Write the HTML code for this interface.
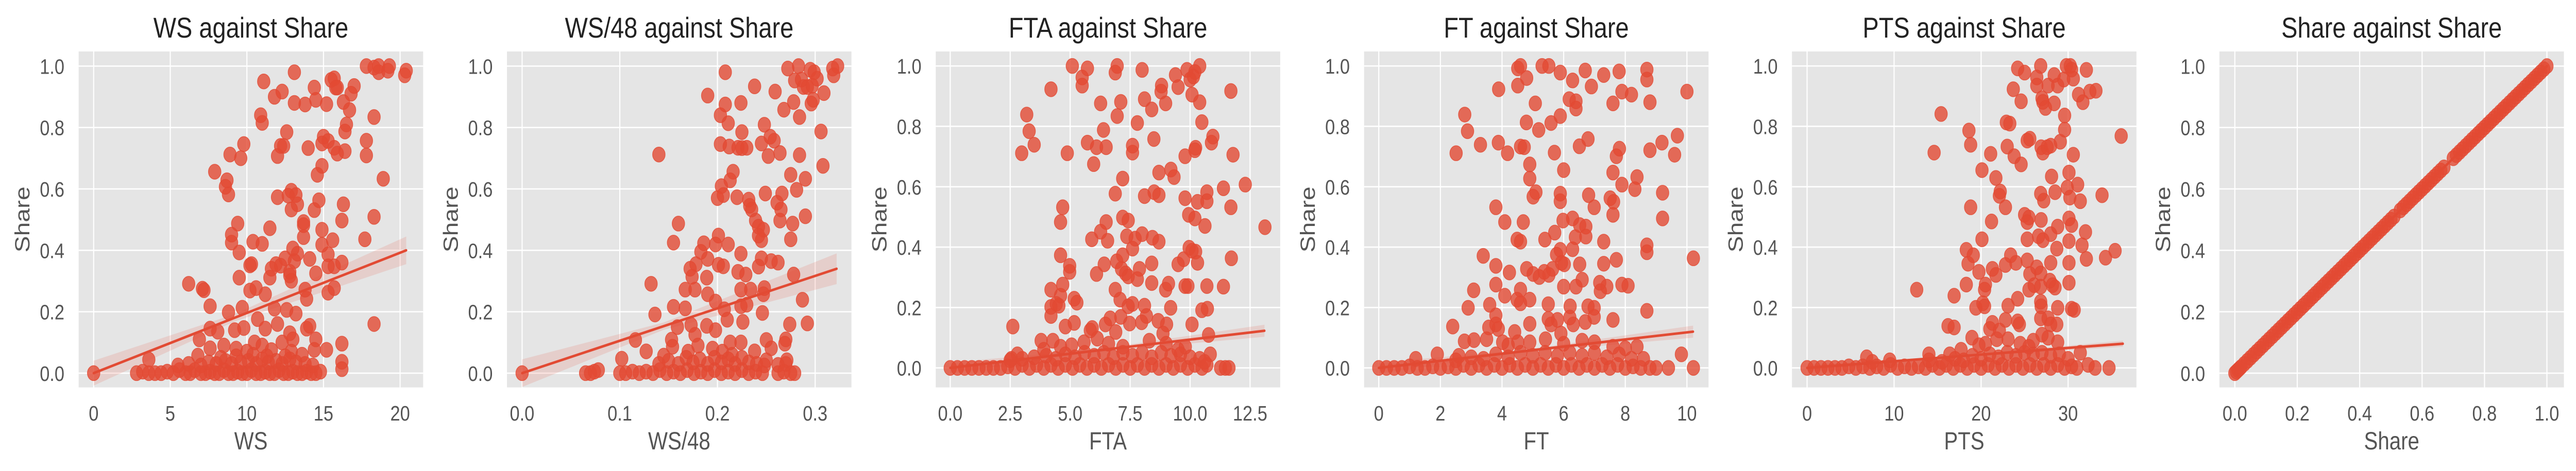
<!DOCTYPE html>
<html><head><meta charset="utf-8"><style>
html,body{margin:0;padding:0;background:#fff;overflow:hidden;width:100%;height:100%;}
svg{display:block;font-family:"Liberation Sans",sans-serif;width:100vw;height:100vh;}
</style></head><body>
<svg id="chart" viewBox="0 0 5960 915" preserveAspectRatio="none" xmlns="http://www.w3.org/2000/svg"></svg>
<script>
// ---------- data ----------
const yTicks = [0, 0.2, 0.4, 0.6, 0.8, 1.0];
const yTickLabels = ["0.0","0.2","0.4","0.6","0.8","1.0"];

const wsTicks = [0,5,10,15,20];
const wsTickLabels = ["0","5","10","15","20"];
const wsPoints = [[0,0],[13.1,.98],[11.1,.95],[17.8,1.0],[18.3,.995],[18.6,1.0],[18.6,.98],[19.3,1.0],[19.2,.985],[20.4,.985],[20.3,.97],[15.5,.955],[15.7,.96],[15.8,.93],[15.9,.93],[14.4,.93],[17.0,.935],[16.8,.91],[11.8,.90],[12.3,.917],[13.1,.88],[13.8,.875],[14.5,.89],[15.2,.876],[16.3,.883],[16.7,.857],[18.3,.834],[10.9,.84],[11.0,.815],[16.5,.81],[16.4,.787],[12.6,.785],[15.0,.77],[15.3,.756],[17.8,.757],[12.2,.74],[12.4,.74],[14.0,.733],[14.9,.748],[15.7,.734],[15.9,.715],[16.4,.723],[17.8,.709],[12.0,.707],[9.8,.746],[8.9,.712],[9.6,.70],[7.9,.656],[14.9,.675],[14.6,.646],[18.9,.633],[8.7,.628],[8.6,.607],[8.8,.582],[12.0,.573],[12.9,.594],[13.2,.58],[12.7,.578],[13.3,.55],[12.9,.533],[14.7,.563],[14.4,.531],[16.3,.55],[16.2,.497],[18.3,.509],[13.7,.492],[13.7,.482],[13.7,.443],[9.4,.487],[11.5,.472],[14.9,.467],[9.0,.451],[9.0,.425],[10.4,.428],[11.0,.421],[14.9,.418],[15.6,.433],[17.7,.436],[9.5,.393],[13.0,.406],[13.3,.389],[15.3,.387],[14.1,.372],[10.2,.351],[10.3,.355],[11.9,.355],[12.5,.374],[11.6,.34],[12.2,.35],[13.1,.365],[12.8,.33],[14.5,.325],[15.3,.348],[15.7,.348],[16.2,.36],[9.5,.311],[11.5,.311],[12.8,.318],[12.9,.301],[6.2,.291],[7.1,.275],[7.2,.27],[10.2,.269],[10.6,.277],[11.2,.257],[15.3,.262],[15.7,.277],[13.8,.272],[7.6,.218],[8.8,.198],[9.7,.213],[11.8,.21],[12.6,.206],[13.2,.194],[13.9,.242],[7.6,.145],[8.1,.135],[9.2,.14],[9.8,.147],[10.7,.176],[11.2,.145],[12.0,.16],[12.8,.13],[13.9,.145],[14.1,.154],[18.3,.16],[16.2,.096],[6.9,.11],[7.6,.081],[14.5,.11],[15.2,.076],[14.4,.076],[3.6,.044],[6.8,.057],[16.2,.037],[16.2,.013],[8.5,.09],[9.3,.08],[10.5,.1],[11.0,.09],[12.3,.1],[13.0,.11],[10.0,.07],[11.6,.075],[12.9,.07],[13.6,.06]];
const wsLow = [[2.8,0],[3.2,.005],[3.6,0],[4.0,0],[4.4,0],[4.8,.005],[5.2,0],[5.6,.01],[6.0,0],[6.3,0],[6.6,.01],[7.0,0],[7.3,0],[7.6,.005],[7.9,0],[8.2,0],[8.5,.01],[8.8,0],[9.1,0],[9.4,.005],[9.7,0],[10.0,0],[10.3,.01],[10.6,0],[10.9,0],[11.2,.005],[11.5,0],[11.8,0],[12.1,.01],[12.4,0],[12.7,0],[13.0,.005],[13.3,0],[13.6,0],[13.9,.005],[14.2,0],[14.5,0],[14.8,.005],[5.5,.025],[6.2,.03],[7.0,.025],[7.5,.035],[8.0,.03],[8.6,.04],[9.0,.03],[9.6,.035],[10.1,.04],[10.6,.03],[11.0,.045],[11.4,.035],[11.9,.04],[12.3,.03],[12.8,.045],[13.2,.035],[13.8,.03],[14.3,.025],[8.3,.05],[9.3,.055],[10.4,.06],[11.3,.055],[12.5,.055]];

const ws48Ticks = [0,0.1,0.2,0.3];
const ws48TickLabels = ["0.0","0.1","0.2","0.3"];
const ws48Points = [[0,0],[.208,.98],[.19,.904],[.208,.875],[.224,.88],[.238,.934],[.259,.917],[.272,.992],[.283,1.0],[.279,.953],[.286,.956],[.295,.988],[.299,.98],[.302,.959],[.288,.932],[.292,.932],[.297,.936],[.318,.992],[.319,.97],[.323,1.0],[.309,.912],[.296,.878],[.298,.89],[.278,.883],[.268,.858],[.284,.834],[.203,.84],[.211,.814],[.225,.785],[.248,.809],[.306,.787],[.203,.746],[.212,.738],[.221,.734],[.225,.733],[.23,.734],[.245,.748],[.254,.77],[.258,.757],[.252,.707],[.264,.717],[.284,.71],[.14,.712],[.216,.656],[.213,.628],[.275,.646],[.29,.633],[.308,.675],[.204,.609],[.2,.57],[.206,.58],[.22,.573],[.232,.565],[.233,.545],[.235,.533],[.249,.585],[.266,.585],[.261,.555],[.265,.533],[.281,.597],[.29,.511],[.264,.497],[.277,.487],[.239,.497],[.242,.477],[.247,.467],[.242,.448],[.245,.433],[.16,.487],[.155,.425],[.201,.448],[.198,.419],[.211,.419],[.186,.423],[.183,.395],[.19,.372],[.224,.389],[.275,.436],[.172,.34],[.178,.355],[.201,.353],[.206,.348],[.242,.347],[.245,.374],[.255,.365],[.262,.36],[.174,.314],[.189,.311],[.221,.33],[.229,.321],[.278,.321],[.132,.291],[.167,.272],[.177,.272],[.19,.257],[.224,.272],[.234,.272],[.248,.277],[.247,.257],[.287,.239],[.155,.216],[.167,.211],[.198,.233],[.207,.208],[.224,.218],[.23,.223],[.136,.191],[.246,.196],[.159,.15],[.173,.157],[.177,.125],[.189,.154],[.198,.14],[.21,.174],[.226,.167],[.274,.159],[.292,.162],[.27,.11],[.269,.096],[.116,.108],[.127,.071],[.153,.109],[.154,.086],[.102,.047],[.145,.057],[.25,.108],[.255,.081],[.271,.042],[.25,.042],[.238,.071],[.262,.027],[.224,.1],[.213,.1],[.18,.09],[.195,.08],[.205,.07],[.17,.07],[.215,.06]];
const ws48Low = [[.065,0],[.07,0],[.074,.005],[.078,.01],[.1,0],[.106,0],[.113,.005],[.12,0],[.127,.005],[.134,0],[.141,.01],[.148,0],[.155,.005],[.162,0],[.169,.01],[.176,0],[.183,.005],[.19,0],[.197,.01],[.204,0],[.211,.005],[.218,0],[.225,.01],[.232,0],[.239,.005],[.246,0],[.262,0],[.268,.005],[.275,0],[.279,0],[.14,.03],[.15,.04],[.16,.03],[.168,.05],[.175,.035],[.182,.045],[.19,.03],[.197,.05],[.204,.035],[.211,.045],[.218,.03],[.225,.05],[.232,.035],[.24,.03],[.248,.025],[.27,.03]];

const ftaTicks = [0,2.5,5,7.5,10,12.5];
const ftaTickLabels = ["0.0","2.5","5.0","7.5","10.0","12.5"];
const ftaPoints = [[5.09,1.0],[6.96,1.0],[6.88,.978],[5.72,.992],[5.5,.962],[5.5,.935],[8.0,.987],[9.39,.97],[9.5,.93],[9.87,.987],[10.0,.955],[10.14,.965],[10.2,.98],[10.4,1.0],[8.81,.935],[8.79,.915],[10.08,.905],[10.4,.88],[11.7,.917],[4.2,.923],[6.27,.876],[7.11,.881],[8.1,.89],[8.4,.856],[8.98,.876],[6.96,.834],[7.8,.811],[10.49,.814],[3.19,.839],[3.29,.784],[3.5,.739],[2.98,.711],[4.88,.711],[6.39,.788],[8.49,.758],[10.95,.766],[10.89,.746],[5.72,.746],[6.1,.731],[6.5,.731],[7.6,.736],[7.6,.713],[9.79,.701],[10.23,.729],[10.2,.721],[11.79,.706],[5.98,.675],[7.19,.627],[8.7,.647],[9.2,.657],[9.33,.632],[6.88,.577],[8.1,.569],[8.5,.582],[8.7,.572],[9.79,.562],[10.31,.55],[10.7,.582],[10.7,.552],[11.39,.595],[12.3,.607],[11.7,.532],[4.69,.532],[4.6,.483],[9.94,.507],[10.2,.495],[10.62,.47],[13.12,.466],[7.19,.498],[7.42,.488],[6.5,.483],[6.27,.451],[5.9,.426],[6.56,.421],[7.36,.436],[7.71,.428],[8.0,.443],[8.43,.431],[8.7,.418],[7.6,.395],[9.96,.398],[10.08,.388],[10.23,.385],[4.6,.373],[7.19,.373],[6.94,.353],[7.14,.328],[7.31,.313],[7.42,.303],[4.98,.338],[4.98,.318],[6.42,.343],[6.1,.311],[7.89,.328],[8.4,.346],[7.8,.294],[9.5,.343],[9.73,.36],[10.31,.348],[11.72,.363],[4.69,.276],[4.2,.259],[6.88,.259],[8.4,.281],[9.1,.279],[8.98,.259],[9.79,.271],[9.91,.271],[10.7,.271],[11.39,.269],[4.6,.239],[5.17,.229],[5.28,.216],[7.08,.226],[7.42,.204],[7.6,.212],[8.1,.206],[4.2,.202],[4.42,.212],[4.53,.206],[9.19,.199],[10.49,.191],[10.72,.196],[4.2,.172],[7.11,.169],[6.67,.164],[8.18,.172],[8.67,.156],[5.17,.149],[4.8,.137],[7.48,.147],[7.98,.151],[9.02,.144],[6.47,.144],[2.61,.137],[5.84,.124],[5.92,.132],[10.08,.144],[6.9,.119],[3.79,.09],[4.28,.09],[8.87,.114],[10.77,.109],[5.06,.075],[5.58,.085],[6.13,.097],[10.84,.045],[9.5,.06],[2.55,.03],[2.8,.045],[11.27,0],[11.47,0],[11.62,0],[6.6,.08],[7.2,.07],[8.3,.09],[9.0,.08],[9.8,.07],[4.6,.07],[3.9,.06]];
const ftaLow = [[0,0],[.3,0],[.6,0],[.9,0],[1.2,0],[1.5,0],[1.8,0],[2.1,0],[2.4,.005],[2.7,0],[3.0,.01],[3.3,0],[3.6,.01],[3.9,0],[4.2,.01],[4.5,0],[4.8,.01],[5.1,0],[5.4,.01],[5.7,0],[6.0,.01],[6.3,0],[6.6,.01],[6.9,0],[7.2,.01],[7.5,0],[7.8,.01],[8.1,0],[8.4,.01],[8.7,0],[9.0,.01],[9.3,0],[9.6,.01],[9.9,0],[10.2,.01],[10.5,0],[10.7,.01],[2.5,.025],[3.0,.03],[3.5,.035],[4.0,.04],[4.4,.03],[4.8,.045],[5.2,.035],[5.6,.05],[6.0,.04],[6.4,.05],[6.8,.035],[7.2,.05],[7.6,.04],[8.0,.05],[8.4,.035],[8.8,.05],[9.2,.04],[9.6,.045],[10.0,.035],[10.4,.03],[10.6,.02]];

const ftTicks = [0,2,4,6,8,10];
const ftTickLabels = ["0","2","4","6","8","10"];
const ftPoints = [[4.51,.992],[4.6,1.0],[4.51,.935],[4.8,.96],[5.3,1.0],[5.52,1.0],[5.89,.978],[6.29,.952],[6.7,.985],[6.9,.932],[7.3,.97],[7.8,.982],[8.7,.988],[8.7,.955],[8.8,.88],[7.89,.915],[8.2,.905],[7.6,.876],[10.0,.915],[3.89,.923],[5.08,.876],[6.18,.89],[6.4,.883],[6.4,.859],[2.79,.839],[2.88,.784],[4.79,.813],[5.19,.788],[5.59,.811],[5.89,.834],[3.3,.739],[2.51,.711],[3.88,.746],[4.18,.711],[4.6,.733],[4.72,.731],[5.7,.713],[6.51,.734],[6.79,.758],[7.71,.701],[7.81,.726],[8.8,.721],[9.19,.746],[9.6,.706],[9.69,.769],[4.9,.674],[4.9,.627],[6.0,.655],[7.6,.647],[8.38,.632],[7.89,.607],[8.31,.592],[9.21,.58],[5.1,.582],[5.01,.567],[5.89,.577],[5.89,.552],[6.81,.572],[6.99,.532],[7.51,.562],[7.62,.55],[7.6,.507],[9.21,.495],[3.8,.532],[4.09,.483],[4.69,.483],[5.98,.488],[6.29,.495],[6.52,.473],[6.72,.468],[5.71,.448],[6.38,.433],[6.72,.435],[4.49,.425],[4.6,.418],[5.39,.425],[7.3,.418],[6.29,.393],[8.7,.406],[8.7,.383],[3.39,.371],[5.89,.391],[5.77,.375],[5.93,.348],[6.02,.343],[6.52,.343],[7.3,.345],[7.71,.358],[10.21,.363],[3.8,.338],[4.24,.316],[4.8,.328],[5.01,.311],[5.21,.301],[5.37,.318],[5.52,.308],[5.64,.328],[3.08,.257],[2.9,.199],[3.8,.276],[4.09,.239],[4.6,.259],[4.9,.226],[4.49,.226],[4.6,.214],[6.0,.269],[6.4,.269],[6.6,.292],[7.17,.282],[7.4,.269],[7.89,.276],[8.09,.272],[7.19,.254],[3.6,.209],[5.5,.211],[6.21,.204],[6.79,.204],[6.99,.199],[6.99,.169],[8.7,.189],[3.8,.174],[3.8,.144],[3.57,.134],[3.88,.129],[5.5,.162],[5.59,.144],[5.8,.159],[6.2,.167],[6.31,.144],[6.7,.152],[7.6,.159],[4.9,.146],[2.4,.137],[4.41,.119],[5.91,.114],[2.78,.088],[3.09,.092],[3.5,.095],[4.02,.085],[4.2,.075],[4.51,.085],[4.9,.085],[5.41,.095],[8.38,.07],[9.82,.045],[8.59,.03],[8.8,0],[9.0,0],[9.4,0],[10.21,0],[6.0,.08],[6.6,.09],[7.0,.085],[7.6,.07],[8.0,.065],[1.2,.03],[1.9,.045],[2.6,.04]];
const ftLow = [[0,0],[.25,0],[.5,0],[.75,0],[1.0,.005],[1.25,0],[1.5,0],[1.75,.005],[2.0,0],[2.25,.005],[2.5,0],[2.75,.01],[3.0,0],[3.25,.01],[3.5,0],[3.75,.01],[4.0,0],[4.25,.01],[4.5,0],[4.75,.01],[5.0,0],[5.25,.01],[5.5,0],[5.75,.01],[6.0,0],[6.25,.01],[6.5,0],[6.75,.01],[7.0,0],[7.25,.01],[7.5,0],[7.75,.01],[8.0,0],[8.25,.005],[8.5,0],[2.5,.025],[3.0,.035],[3.4,.03],[3.8,.045],[4.2,.035],[4.6,.05],[5.0,.04],[5.4,.05],[5.8,.04],[6.2,.05],[6.6,.04],[7.0,.05],[7.4,.035],[7.8,.045],[8.2,.03]];

const ptsTicks = [0,10,20,30];
const ptsTickLabels = ["0","10","20","30"];
const ptsPoints = [[24.2,.992],[25.0,.978],[26.85,1.0],[26.4,.962],[26.4,.935],[28.4,.97],[27.7,.935],[28.8,.935],[29.5,.955],[29.8,1.0],[30.25,1.0],[30.4,.988],[30.6,.958],[32.1,.987],[23.7,.923],[24.6,.883],[27.0,.893],[27.1,.881],[27.4,.861],[28.4,.876],[31.2,.905],[31.7,.88],[32.5,.915],[33.2,.918],[29.6,.836],[29.6,.789],[15.4,.841],[22.9,.813],[23.3,.809],[18.6,.786],[18.8,.739],[14.6,.713],[25.3,.753],[25.6,.759],[29.1,.749],[26.9,.731],[27.1,.713],[27.6,.731],[28.0,.736],[23.0,.733],[23.8,.701],[24.6,.674],[21.1,.709],[30.6,.706],[36.1,.768],[20.1,.655],[21.7,.629],[28.1,.634],[30.1,.647],[29.9,.597],[31.1,.607],[22.2,.584],[22.1,.57],[22.8,.532],[26.85,.577],[27.2,.554],[28.5,.582],[30.2,.564],[31.4,.552],[33.9,.572],[18.8,.532],[21.2,.485],[25.0,.507],[25.5,.498],[25.3,.483],[26.9,.49],[30.1,.495],[30.4,.473],[28.8,.468],[28.0,.443],[32.0,.45],[20.1,.426],[25.3,.426],[26.6,.436],[27.1,.423],[30.1,.42],[31.6,.406],[28.7,.395],[18.3,.391],[19.1,.373],[18.5,.345],[23.4,.373],[24.0,.348],[22.8,.341],[25.3,.356],[25.6,.311],[26.4,.333],[26.85,.313],[28.0,.348],[30.1,.348],[32.1,.361],[34.3,.365],[35.4,.388],[19.75,.318],[21.3,.328],[21.7,.308],[27.9,.289],[30.1,.282],[18.3,.276],[20.5,.276],[20.4,.259],[25.5,.259],[26.1,.274],[26.85,.269],[28.2,.274],[28.5,.266],[12.6,.259],[16.9,.239],[24.2,.229],[19.4,.199],[20.2,.214],[20.4,.204],[23.1,.206],[26.85,.219],[26.9,.204],[28.8,.199],[30.4,.196],[30.7,.192],[22.8,.159],[24.2,.154],[26.85,.164],[21.3,.149],[21.0,.129],[21.8,.095],[22.1,.124],[16.2,.139],[16.9,.134],[24.4,.144],[27.7,.164],[28.0,.144],[28.7,.144],[18.95,.1],[23.1,.095],[27.7,.1],[28.8,.085],[6.85,.035],[14.0,.045],[16.4,.045],[17.7,.06],[19.75,.075],[31.4,.05],[34.7,0],[33.1,0],[32.3,.01],[20.5,.08],[24.5,.08],[26.0,.09],[27.0,.11],[25.5,.07]];
const ptsLow = [[0,0],[.8,0],[1.6,0],[2.4,0],[3.2,0],[4.0,0],[4.8,.005],[5.6,0],[6.4,.005],[7.2,0],[8.0,.005],[8.8,0],[9.6,.01],[10.4,0],[11.2,.005],[12.0,0],[12.8,.005],[13.6,0],[14.4,.01],[15.2,0],[16.0,.01],[16.8,0],[17.6,.01],[18.4,0],[19.2,.01],[20.0,0],[20.8,.01],[21.6,0],[22.4,.01],[23.2,0],[24.0,.01],[24.8,0],[25.6,.01],[26.4,0],[27.2,.01],[28.0,0],[28.8,.01],[29.6,0],[30.4,.005],[31.0,0],[14.0,.025],[15.5,.02],[17.0,.03],[18.0,.025],[19.0,.04],[20.0,.03],[21.0,.045],[22.0,.035],[23.0,.05],[24.0,.04],[25.0,.05],[26.0,.045],[27.0,.05],[28.0,.04],[29.0,.045],[30.0,.03],[9.5,.025],[7.5,.02]];

const shareValues = [0,.005,.01,.015,.02,.03,.04,.05,.06,.07,.08,.09,.1,.11,.12,.13,.14,.15,.16,.17,.18,.19,.2,.21,.22,.23,.24,.25,.26,.27,.28,.29,.3,.31,.32,.33,.34,.35,.36,.37,.38,.39,.4,.41,.42,.43,.44,.45,.46,.47,.48,.49,.5,.51,.53,.54,.55,.56,.57,.58,.59,.6,.61,.62,.63,.64,.65,.66,.67,.7,.71,.72,.73,.74,.75,.76,.77,.78,.79,.8,.81,.82,.83,.84,.85,.86,.87,.88,.89,.9,.91,.92,.93,.94,.95,.96,.97,.98,.99,1.0];

const wsFit = [0, 20.4, 0.0, 0.40];
const ws48Fit = [0, 0.322, 0.0, 0.34];
const ftaFit = [0, 13.1, 0.0, 0.123];
const ftFit = [0, 10.2, 0.0, 0.12];
const ptsFit = [0, 36.3, 0.0, 0.08];
const shareFit = [0, 1.0, 0.0, 1.0];
const wsBand = [0.012, 0.045];
const ws48Band = [0.012, 0.05];
const ftaBand = [0.004, 0.02];
const ftBand = [0.004, 0.02];
const ptsBand = [0.002, 0.01];
const shareBand = [0, 0];

// ---------- layout ----------
const NS = "http://www.w3.org/2000/svg";
const svg = document.getElementById("chart");
const COLOR = "#E24A33";
const TOP = 100, BOTTOM = 752.6, W = 797;

const panels = [
  {key:"ws", title:"WS against Share", xlabel:"WS", left:182, x0:216.7, ppu:35.45, ylo:-0.0464, yhi:1.0476, ticks:wsTicks, labels:wsTickLabels, pts:wsPoints.concat(wsLow), fit:wsFit, band:wsBand},
  {key:"ws48", title:"WS/48 against Share", xlabel:"WS/48", left:1173, x0:1208, ppu:2260, ylo:-0.0464, yhi:1.0476, ticks:ws48Ticks, labels:ws48TickLabels, pts:ws48Points.concat(ws48Low), fit:ws48Fit, band:ws48Band},
  {key:"fta", title:"FTA against Share", xlabel:"FTA", left:2165, x0:2198.5, ppu:55.5, ylo:-0.0646, yhi:1.048, ticks:ftaTicks, labels:ftaTickLabels, pts:ftaPoints.concat(ftaLow), fit:ftaFit, band:ftaBand},
  {key:"ft", title:"FT against Share", xlabel:"FT", left:3156, x0:3190, ppu:71.3, ylo:-0.0646, yhi:1.048, ticks:ftTicks, labels:ftTickLabels, pts:ftPoints.concat(ftLow), fit:ftFit, band:ftBand},
  {key:"pts", title:"PTS against Share", xlabel:"PTS", left:4146, x0:4181, ppu:20.13, ylo:-0.0646, yhi:1.048, ticks:ptsTicks, labels:ptsTickLabels, pts:ptsPoints.concat(ptsLow), fit:ptsFit, band:ptsBand},
  {key:"share", title:"Share against Share", xlabel:"Share", left:5135, x0:5170.7, ppu:722, ylo:-0.0464, yhi:1.0476, ticks:[0,.2,.4,.6,.8,1.0], labels:["0.0","0.2","0.4","0.6","0.8","1.0"], pts:shareValues.map(v=>[v,v]), fit:shareFit, band:shareBand}
];

function mk(tag, attrs, parent){
  const e = document.createElementNS(NS, tag);
  for (const k in attrs) e.setAttribute(k, attrs[k]);
  (parent||svg).appendChild(e);
  return e;
}

panels.forEach(p=>{
  const g = mk("g", {});
  
  
  const sx = v => p.x0 + v * p.ppu;
  const sy = v => BOTTOM - (v - p.ylo) / (p.yhi - p.ylo) * (BOTTOM - TOP);

  const bg = mk("rect", {x:p.left, y:TOP, width:W, height:BOTTOM-TOP, fill:"#E5E5E5"}, g);
  
  

  p.ticks.forEach((t,i)=>{
    const gl = mk("line", {x1:sx(t), x2:sx(t), y1:TOP, y2:BOTTOM, stroke:"#fff", "stroke-width":2.6}, g);
    
    
    const tl = mk("text", {x:sx(t), y:817, "text-anchor":"middle", "font-size":41, fill:"#555"}, g);
    tl.textContent = p.labels[i];
    
    
  });
  yTicks.forEach((t,i)=>{
    const gl = mk("line", {x1:p.left, x2:p.left+W, y1:sy(t), y2:sy(t), stroke:"#fff", "stroke-width":2.6}, g);
    
    
    const tl = mk("text", {x:p.left-33, y:sy(t)+15, "text-anchor":"end", "font-size":41, fill:"#555"}, g);
    tl.textContent = yTickLabels[i];
    
    
  });

  const cp = mk("clipPath", {id:"clip-"+p.key}, g);
  mk("rect", {x:p.left, y:TOP, width:W, height:BOTTOM-TOP}, cp);
  const plot = mk("g", {"clip-path":"url(#clip-"+p.key+")"}, g);

  p.pts.forEach(d=>{
    const c = mk("circle", {cx:sx(d[0]), cy:sy(d[1]), r:14.5, fill:COLOR, "fill-opacity":0.8, stroke:COLOR, "stroke-opacity":0.8, "stroke-width":1.5}, plot);
    
    
  });

  const f = p.fit, b = p.band;
  const xm = f[0] + (f[1]-f[0])*0.45;
  const ym = f[2] + (f[3]-f[2])*0.45;
  const band = mk("polygon", {points:[
    [sx(f[0]), sy(f[2]+b[1]*0.9)], [sx(xm), sy(ym+b[0])], [sx(f[1]), sy(f[3]+b[1])],
    [sx(f[1]), sy(f[3]-b[1])], [sx(xm), sy(ym-b[0])], [sx(f[0]), sy(f[2]-b[1]*0.9)]
  ].map(q=>q.join(",")).join(" "), fill:COLOR, "fill-opacity":0.15}, plot);
  
  
  const ln = mk("line", {x1:sx(f[0]), y1:sy(f[2]), x2:sx(f[1]), y2:sy(f[3]), stroke:COLOR, "stroke-width":5, "stroke-linecap":"round"}, plot);
  
  

  const tt = mk("text", {x:p.left+W/2, y:73, "text-anchor":"middle", "font-size":56, fill:"#222"}, g);
  tt.textContent = p.title;
  
  
  const xl = mk("text", {x:p.left+W/2, y:873, "text-anchor":"middle", "font-size":48, fill:"#555"}, g);
  xl.textContent = p.xlabel;
  
  
  const yx = p.left - 114, yy = (TOP+BOTTOM)/2;
  const yl = mk("text", {x:yx, y:yy, "text-anchor":"middle", "font-size":48, fill:"#555", transform:"rotate(-90 "+yx+" "+yy+")"}, g);
  yl.textContent = "Share";
  
  
});
</script>
</body></html>
